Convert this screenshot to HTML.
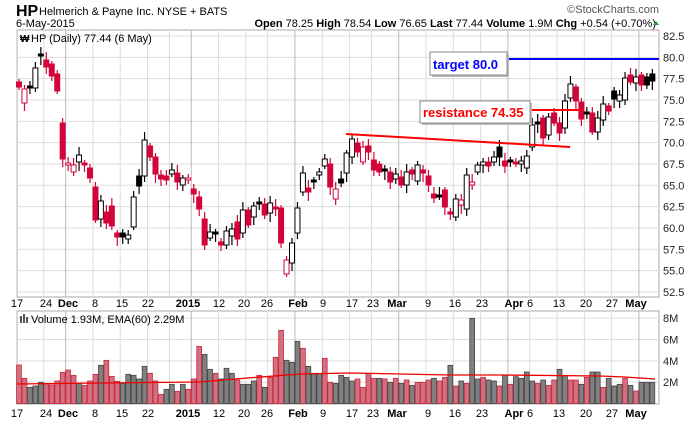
<!DOCTYPE html>
<html><head><meta charset="utf-8"><style>
body{margin:0;background:#fff;width:700px;height:421px;overflow:hidden;font-family:"Liberation Sans",sans-serif}
</style></head><body>
<svg id="s" width="700" height="421" xmlns="http://www.w3.org/2000/svg" font-family="Liberation Sans, sans-serif">
<text x="16" y="16" font-size="16" font-weight="bold">HP</text>
<text x="39" y="15" font-size="11">Helmerich &amp; Payne Inc.  NYSE + BATS</text>
<text x="16" y="27" font-size="11">6-May-2015</text>
<text x="656" y="27" font-size="11" text-anchor="end"><tspan font-weight="bold">Open</tspan> 78.25  <tspan font-weight="bold">High</tspan> 78.54  <tspan font-weight="bold">Low</tspan> 76.65  <tspan font-weight="bold">Last</tspan> 77.44  <tspan font-weight="bold">Volume</tspan> 1.9M  <tspan font-weight="bold">Chg</tspan> +0.54 (+0.70%)</text>
<polygon points="653,25 659,25 656,21" fill="#2a9a2a"/>
<text x="659" y="13" font-size="11" fill="#555" text-anchor="end">©StockCharts.com</text>
<g id="g"></g>
</svg>
<script>
var g=document.getElementById('g'),h='';
var X=function(i){return 19+i*5.46;};
var R='#d2043a';
// panels
h+='<rect x="17" y="30" width="642" height="267" fill="#fff" stroke="#aaa"/>';
h+='<rect x="17" y="311" width="642" height="93" fill="#fff" stroke="#aaa"/>';
for(var k=0;k<13;k++){var y=36+k*21.33;h+='<line x1="17" x2="659" y1="'+y+'" y2="'+y+'" stroke="#ddd"/>';
 var p=(82.5-k*2.5).toFixed(1);h+='<text x="663" y="'+(y+4)+'" font-size="11" fill="#222">'+p+'</text>';}
[318,339.5,361,382].forEach(function(y,j){h+='<line x1="17" x2="659" y1="'+y+'" y2="'+y+'" stroke="#ddd"/>';
 h+='<text x="663" y="'+(y+4)+'" font-size="11" fill="#222">'+['8M','6M','4M','2M'][j]+'</text>';});
var wk=[0,5,9,14,19,24,28,32,37,42,46,51,56,61,65,70,75,80,85,90,94,99,104,109,114];
var mon={9:1,32:1,51:1,70:1,90:1,114:1};
wk.forEach(function(i){var x=X(i)-2.5;var c=mon[i]?'#bbb':'#ddd';
 h+='<line x1="'+x+'" x2="'+x+'" y1="30" y2="297" stroke="'+c+'"/><line x1="'+x+'" x2="'+x+'" y1="311" y2="404" stroke="'+c+'"/>';});
var labs=[[17,'17'],[46,'24'],[68,'Dec',1],[95,'8'],[122,'15'],[148,'22'],[188,'2015',1],[219,'12'],[244,'20'],[267,'26'],[298,'Feb',1],[323,'9'],[352,'17'],[373,'23'],[397,'Mar',1],[428,'9'],[455,'16'],[482,'23'],[514,'Apr',1],[530,'6'],[559,'13'],[586,'20'],[612,'27'],[636,'May',1]];
labs.forEach(function(l){[307,417].forEach(function(y){h+='<text x="'+l[0]+'" y="'+y+'" font-size="11" text-anchor="middle"'+(l[2]?' font-weight="bold"':'')+'>'+l[1]+'</text>';});});
h+='<text x="31" y="42" font-size="11">HP (Daily) 77.44 (6 May)</text><text x="20" y="42" font-size="10" font-weight="bold">₩</text>';
h+='<text x="31" y="323" font-size="11">Volume 1.93M, EMA(60) 2.29M</text><rect x="20" y="316" width="2" height="7" fill="#555"/><rect x="23" y="314" width="2" height="9" fill="#555"/><rect x="26" y="317" width="2" height="6" fill="#555"/>';
var d=[[82,87,'R'],[89,103,'H'],[86,88,'B'],[68,88,'W'],[54,56,'B'],[60,67,'R'],[64,76,'R'],[74,91,'R'],[123,159,'R'],[163,165,'H'],[165,172,'H'],[155,162,'W'],[163,165,'R'],[168,178,'R'],[187,220,'R'],[201,219,'W'],[212,223,'R'],[206,226,'R'],[233,237,'R'],[233,237,'B'],[235,239,'W'],[197,227,'W'],[176,186,'B'],[140,176,'W'],[146,157,'R'],[157,174,'R'],[175,179,'R'],[176,180,'R'],[170,174,'W'],[173,182,'R'],[178,185,'W'],[178,180,'H'],[189,194,'R'],[197,209,'R'],[219,245,'R'],[232,238,'W'],[232,234,'B'],[242,245,'R'],[231,245,'W'],[229,236,'W'],[222,239,'R'],[210,233,'W'],[210,225,'R'],[206,217,'W'],[202,204,'B'],[204,215,'R'],[203,213,'W'],[207,209,'R'],[208,243,'R'],[260,274,'H'],[243,263,'W'],[208,233,'W'],[173,192,'W'],[188,192,'R'],[180,182,'B'],[172,175,'W'],[159,166,'W'],[164,187,'R'],[189,199,'H'],[179,183,'B'],[153,173,'W'],[139,157,'W'],[143,152,'R'],[147,162,'H'],[146,152,'R'],[160,170,'R'],[164,172,'R'],[169,171,'B'],[172,182,'R'],[174,179,'W'],[177,185,'R'],[172,185,'W'],[170,174,'R'],[165,181,'W'],[170,173,'R'],[176,185,'R'],[194,198,'R'],[195,197,'B'],[190,207,'R'],[212,214,'R'],[199,217,'W'],[200,205,'H'],[175,209,'W'],[182,185,'H'],[165,172,'W'],[162,165,'W'],[162,166,'R'],[157,162,'W'],[147,157,'B'],[161,166,'R'],[160,162,'B'],[162,164,'R'],[161,164,'W'],[156,168,'W'],[125,147,'W'],[122,124,'B'],[118,138,'R'],[117,135,'W'],[113,123,'R'],[123,133,'R'],[101,128,'W'],[84,98,'W'],[87,101,'R'],[102,119,'R'],[112,114,'B'],[113,132,'R'],[118,132,'W'],[104,120,'W'],[106,111,'R'],[91,99,'B'],[95,101,'W'],[78,100,'W'],[75,82,'R'],[77,83,'W'],[75,85,'R'],[77,85,'B'],[74,81,'B']];
d.forEach(function(c,i){var x=X(i),t=c[0],b=c[1],ty=c[2];
 var col=(ty=='R'||ty=='H')?R:'#000';var u=3+((i*7)%6),w=3+((i*5)%7);
 h+='<line x1="'+x+'" x2="'+x+'" y1="'+(t-u)+'" y2="'+(b+w)+'" stroke="'+col+'" stroke-width="1.2"/>';
 var fill=(ty=='R')?R:(ty=='B'?'#000':'#fff');if(b-t<2)b=t+2;
 h+='<rect x="'+(x-2.5)+'" y="'+t+'" width="5" height="'+(b-t)+'" fill="'+fill+'" stroke="'+col+'"/>';});
// volume
var v1='255R 295R 322G 318G 307G 310R 315R 303R 277R 270R 286R 310G 316R 303R 283R 256G 241R 289R 304R 310G 283G 286G 297G 259G 280R 303R 343R 328G 313G 334R 313G 328R 297R 199R 223G 268G 280R 297G 265G 280G 300R 313G 313G 303G 286R 322G 292R 232R 151R 241G 247G 184G 205R 259G 280G 280G 235R 307R 310G 286G 292G 303G 297R 322R 280R 295R 295G 297R 307G 295R 310G 300R 316G 307R 307R 300R 295G 303R 292R 256G 318R 303G 310R 115G 297G 292R 300G 303G 318R 286G 313R 290G 295G 276G 303G 310R 300G 316R 300R 268G 286G 300R 300R 313G 292R 276G 276G 322R 295G 318G 313G 295R 316G 333R 307G 307G 307G'.split(' ');
v1.forEach(function(s,i){var y=280+parseInt(s)/3,x=X(i);var r=s.slice(-1)=='R';
 h+='<rect x="'+(x-2.4)+'" y="'+y+'" width="4.8" height="'+(403.5-y)+'" fill="'+(r?'#d07080':'#808080')+'" stroke="'+(r?'#c8283c':'#444')+'" stroke-width="0.8"/>';});
h+='<polyline points="17,384 100,383 200,382 235,379 300,374 350,373 450,375 500,375 600,376 625,377 655,379" fill="none" stroke="#e00" stroke-width="1.3"/>';
// annotations
h+='<line x1="346" y1="134" x2="570" y2="147" stroke="#f00" stroke-width="2"/>';
h+='<line x1="507" y1="59" x2="659" y2="59" stroke="#00f" stroke-width="2"/>';
h+='<line x1="530" y1="110" x2="582" y2="110" stroke="#f00" stroke-width="2"/>';
h+='<rect x="432" y="54" width="77" height="23" fill="#bbb"/><rect x="430" y="52" width="77" height="23" fill="#fff" stroke="#888"/><text x="433" y="69" font-size="13" font-weight="bold" fill="#00f">target 80.0</text>';
h+='<rect x="422" y="103" width="110" height="22" fill="#bbb"/><rect x="420" y="101" width="110" height="22" fill="#fff" stroke="#888"/><text x="423" y="117" font-size="13" font-weight="bold" fill="#f00">resistance 74.35</text>';
g.innerHTML=h;
</script>
</body></html>
